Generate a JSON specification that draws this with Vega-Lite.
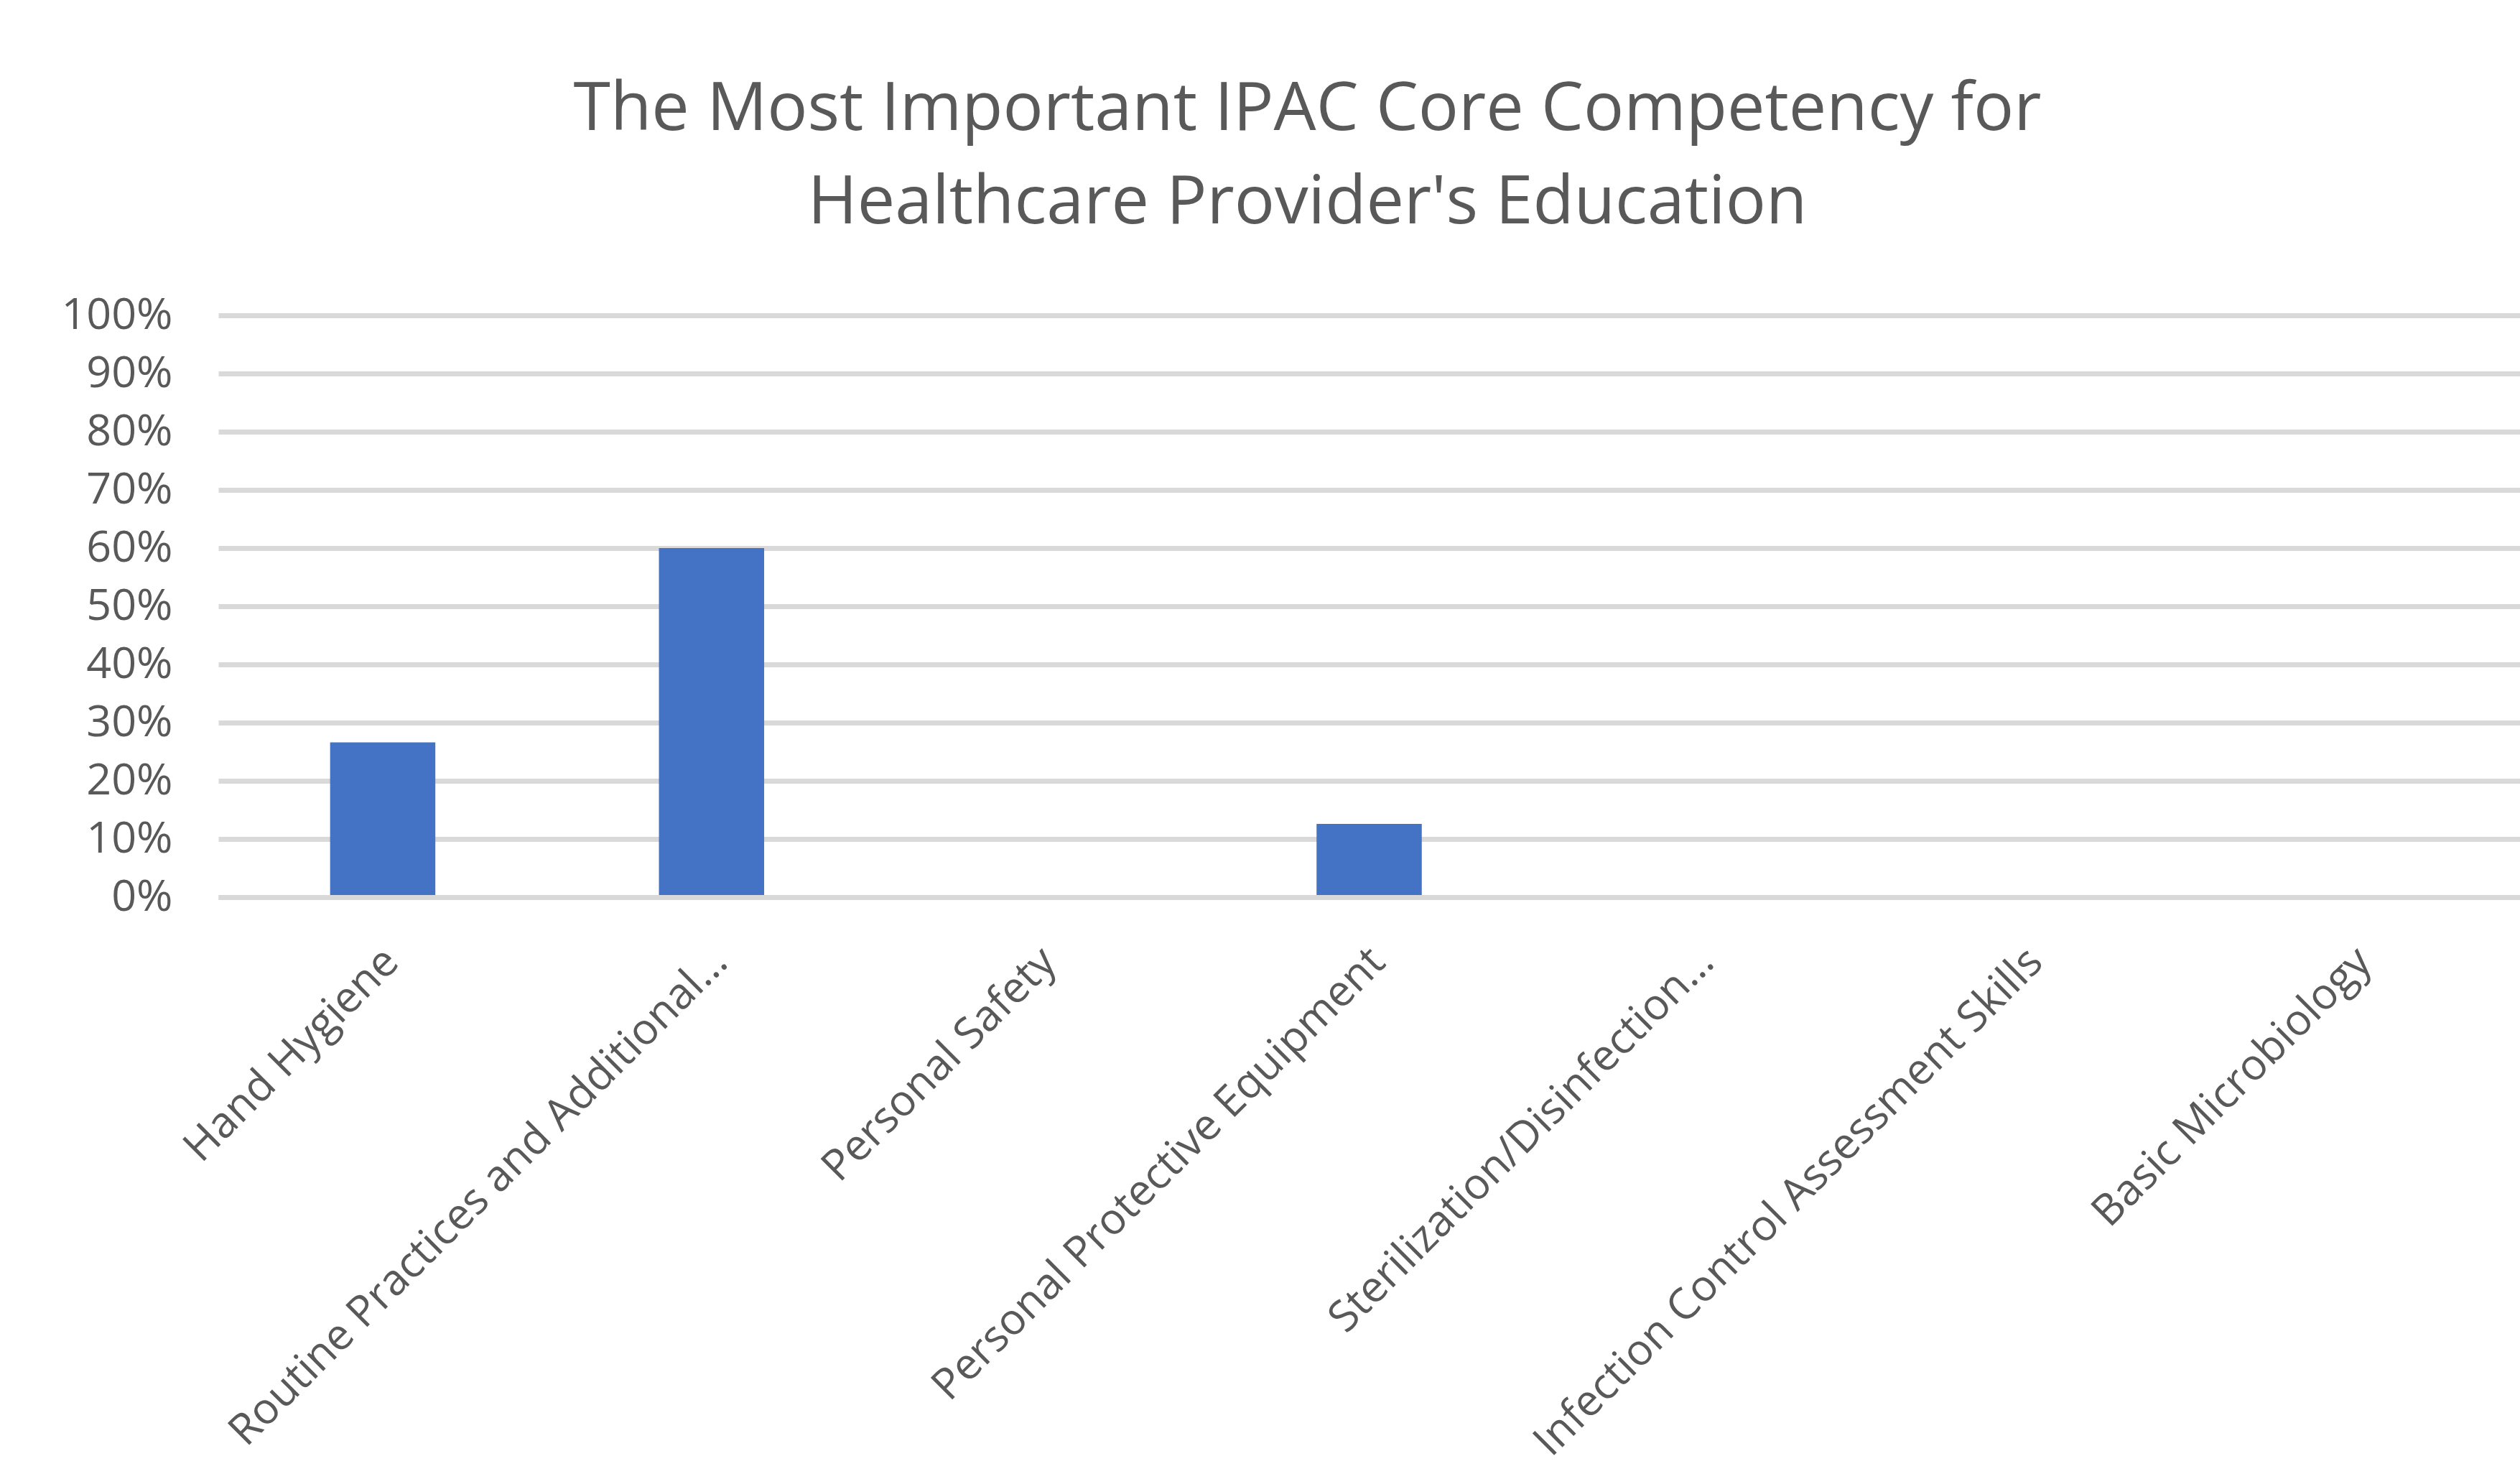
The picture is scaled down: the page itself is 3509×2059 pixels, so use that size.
{
  "$schema": "https://vega.github.io/schema/vega-lite/v6.json",
  "width": 3205,
  "height": 810,
  "autosize": {"type": "none"},
  "padding": {"left": 304, "top": 439, "right": 0, "bottom": 810},
  "background": "white",
  "title": {
    "text": ["The Most Important IPAC Core Competency for", "Healthcare Provider's Education"],
    "font": "Open Sans",
    "fontSize": 93.5,
    "fontWeight": "normal",
    "color": "#595959",
    "lineHeight": 130,
    "anchor": "middle",
    "dx": -86,
    "offset": 78
  },
  "config": {"view": {"stroke": null}},
  "data": {
    "values": [
      {"competency": "Hand Hygiene", "share": 0.266},
      {"competency": "Routine Practices and Additional…", "share": 0.6},
      {"competency": "Personal Safety", "share": 0},
      {"competency": "Personal Protective Equipment", "share": 0.126},
      {"competency": "Sterilization/Disinfection…", "share": 0},
      {"competency": "Infection Control Assessment Skills", "share": 0},
      {"competency": "Basic Microbiology", "share": 0}
    ]
  },
  "mark": {"type": "bar", "color": "#4472c4"},
  "encoding": {
    "x": {
      "field": "competency",
      "type": "nominal",
      "sort": null,
      "scale": {"paddingInner": 0.68, "paddingOuter": 0.34},
      "axis": {
        "title": null,
        "labelAngle": -45,
        "labelFont": "Open Sans",
        "labelFontSize": 60,
        "labelColor": "#595959",
        "ticks": false,
        "domain": true,
        "domainColor": "#d9d9d9",
        "domainWidth": 7,
        "labelPadding": 60,
        "labelOffset": -8,
        "labelLimit": 0,
        "zindex": 1
      }
    },
    "y": {
      "field": "share",
      "type": "quantitative",
      "scale": {"domain": [0, 1]},
      "axis": {
        "title": null,
        "format": ".0%",
        "values": [0, 0.1, 0.2, 0.3, 0.4, 0.5, 0.6, 0.7, 0.8, 0.9, 1],
        "grid": true,
        "gridColor": "#d9d9d9",
        "gridWidth": 7,
        "domain": false,
        "ticks": false,
        "labelPadding": 64,
        "labelFont": "Open Sans",
        "labelFontSize": 61,
        "labelColor": "#595959"
      }
    }
  }
}
